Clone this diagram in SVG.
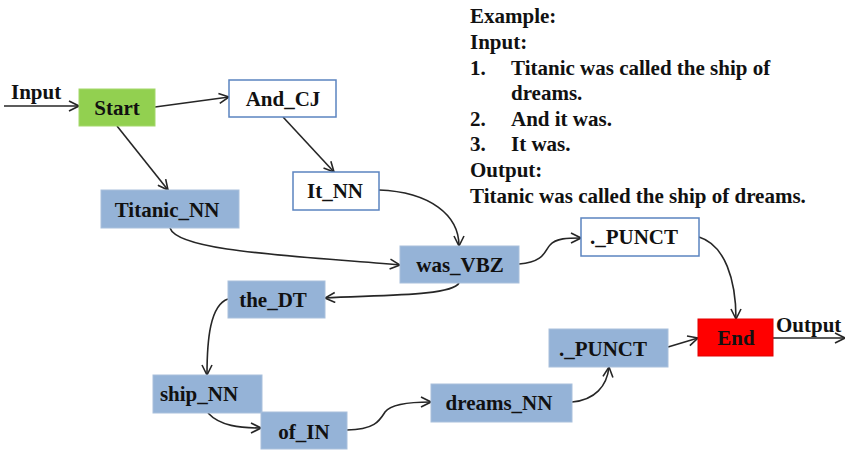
<svg xmlns="http://www.w3.org/2000/svg" width="845" height="450" viewBox="0 0 845 450">
  <style>
    text { font-family: "Liberation Serif", "Times New Roman", serif; font-weight: bold; fill: #111; }
    .lbl { font-size: 21px; text-anchor: middle; }
    .ex { font-size: 21px; }
    .tag { fill: #95b3d7; stroke: #a9c0dc; stroke-width: 1; }
    .open { fill: #ffffff; stroke: #5b84c0; stroke-width: 1.5; }
    .start { fill: #92d050; stroke: #a4d86a; stroke-width: 1; }
    .end { fill: #ff0000; stroke: #e00000; stroke-width: 1; }
    .edge { fill: none; stroke: #262626; stroke-width: 1.6; marker-end: url(#arr); }
  </style>
  <defs>
    <marker id="arr" viewBox="0 0 12 12" refX="11" refY="6" markerWidth="12" markerHeight="12" markerUnits="userSpaceOnUse" orient="auto">
      <path d="M1,1 L11,6 L1,11" fill="none" stroke="#262626" stroke-width="1.6"/>
    </marker>
  </defs>

  <!-- worked example -->
  <g id="example">
    <text class="ex" x="470" y="23">Example:</text>
    <text class="ex" x="470" y="49">Input:</text>
    <text class="ex" x="470" y="75">1.</text>
    <text class="ex" x="511" y="75">Titanic was called the ship of</text>
    <text class="ex" x="511" y="100">dreams.</text>
    <text class="ex" x="470" y="126">2.</text>
    <text class="ex" x="511" y="126">And it was.</text>
    <text class="ex" x="470" y="151">3.</text>
    <text class="ex" x="511" y="151">It was.</text>
    <text class="ex" x="470" y="177">Output:</text>
    <text class="ex" x="470" y="203">Titanic was called the ship of dreams.</text>
  </g>

  <!-- connectors -->
  <g id="edges">
    <path class="edge" d="M4,106 L79,106"/>
    <path class="edge" d="M155,107 L229,97"/>
    <path class="edge" d="M117,126 L168,190"/>
    <path class="edge" d="M283,117 L334,172"/>
    <path class="edge" d="M379,190 C430,192 459,215 459,246"/>
    <path class="edge" d="M170,228 C178,252 300,256 400,265"/>
    <path class="edge" d="M519,264 C545,262 545,250 550,245 C556,238 568,238 581,238"/>
    <path class="edge" d="M459,283 C452,296 380,295 325,298"/>
    <path class="edge" d="M228,299 C210,305 207,340 207,375"/>
    <path class="edge" d="M208,413 C220,426 240,428 261,428"/>
    <path class="edge" d="M347,430 C375,430 380,420 385,412 C391,404 410,402 431,402"/>
    <path class="edge" d="M572,402 C595,400 607,386 609,367"/>
    <path class="edge" d="M668,347 L698,338"/>
    <path class="edge" d="M699,237 C725,245 736,280 736,319"/>
    <path class="edge" d="M773,338 L845,338"/>
  </g>

  <text x="11" y="99" style="font-size:21px">Input</text>
  <text x="776" y="332" style="font-size:21px">Output</text>

  <!-- nodes -->
  <g id="n-start"><rect class="start" x="79" y="89" width="76" height="37"/><text class="lbl" x="117" y="115">Start</text></g>
  <g id="n-and"><rect class="open" x="229" y="80" width="107" height="37"/><text class="lbl" x="283" y="106">And_CJ</text></g>
  <g id="n-titanic"><rect class="tag" x="101" y="190" width="138" height="38"/><text class="lbl" x="167" y="217">Titanic_NN</text></g>
  <g id="n-it"><rect class="open" x="293" y="172" width="86" height="38"/><text class="lbl" x="335" y="198">It_NN</text></g>
  <g id="n-was"><rect class="tag" x="400" y="246" width="119" height="37"/><text class="lbl" x="460" y="272">was_VBZ</text></g>
  <g id="n-punct1"><rect class="open" x="581" y="218" width="118" height="38"/><text class="lbl" x="634" y="244">._PUNCT</text></g>
  <g id="n-end"><rect class="end" x="698" y="319" width="75" height="37"/><text class="lbl" x="736" y="345">End</text></g>
  <g id="n-the"><rect class="tag" x="228" y="281" width="97" height="37"/><text class="lbl" x="273" y="307">the_DT</text></g>
  <g id="n-ship"><rect class="tag" x="153" y="375" width="109" height="38"/><text class="lbl" x="199" y="401">ship_NN</text></g>
  <g id="n-of"><rect class="tag" x="261" y="412" width="86" height="37"/><text class="lbl" x="304" y="439">of_IN</text></g>
  <g id="n-dreams"><rect class="tag" x="431" y="384" width="141" height="38"/><text class="lbl" x="499" y="410">dreams_NN</text></g>
  <g id="n-punct2"><rect class="tag" x="549" y="329" width="119" height="38"/><text class="lbl" x="603" y="356">._PUNCT</text></g>
</svg>
